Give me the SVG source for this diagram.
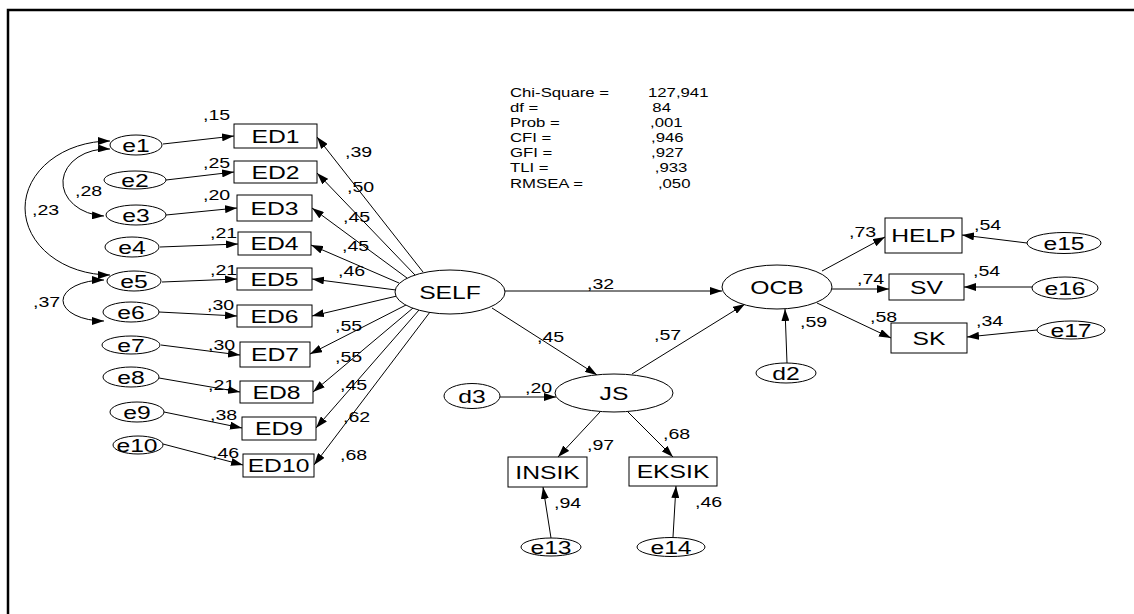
<svg xmlns="http://www.w3.org/2000/svg" width="1134" height="614" viewBox="0 0 1134 614">
<style>
text{font-family:"Liberation Sans",Arial,sans-serif;fill:#000}
.lbl{font-size:19px;text-anchor:middle}
.num{font-size:14.5px}
.st{font-size:13.5px}
.box{fill:#fff;stroke:#000;stroke-width:1}
.ov{fill:#fff;stroke:#000;stroke-width:1}
.ln{fill:none;stroke:#000;stroke-width:1;marker-end:url(#ah)}
.cv{fill:none;stroke:#000;stroke-width:1;marker-end:url(#ah);marker-start:url(#ahs)}
</style>
<defs>
<marker id="ah" viewBox="0 0 12 8" refX="12" refY="4" markerWidth="12" markerHeight="8" markerUnits="userSpaceOnUse" orient="auto"><path d="M0,0 L12,4 L0,8 z" fill="#000"/></marker>
<marker id="ahs" viewBox="0 0 12 8" refX="12" refY="4" markerWidth="12" markerHeight="8" markerUnits="userSpaceOnUse" orient="auto-start-reverse"><path d="M0,0 L12,4 L0,8 z" fill="#000"/></marker>
</defs>
<rect width="1134" height="614" fill="#fff"/>
<path d="M8,614 V10 H1134" fill="none" stroke="#000" stroke-width="2.5"/>

<g id="fit">
<text class="st" transform="translate(510,96.5) scale(1.24,1)"><tspan x="0" y="0">Chi-Square =</tspan><tspan x="0" y="15.2">df =</tspan><tspan x="0" y="30.4">Prob =</tspan><tspan x="0" y="45.6">CFI =</tspan><tspan x="0" y="60.8">GFI =</tspan><tspan x="0" y="76">TLI =</tspan><tspan x="0" y="91.2">RMSEA =</tspan></text>
<text class="st" transform="translate(648,96.5) scale(1.24,1)"><tspan x="0" y="0">127,941</tspan><tspan x="3.5" y="15.2">84</tspan><tspan x="1.7" y="30.4">,001</tspan><tspan x="2.5" y="45.6">,946</tspan><tspan x="2.5" y="60.8">,927</tspan><tspan x="5.5" y="76">,933</tspan><tspan x="8" y="91.2">,050</tspan></text>
</g>

<g id="connectors">
<path class="cv" d="M110,141 A85,67 0 0 0 110,275"/>
<path class="cv" d="M110,149 A44,33.5 0 0 0 104,216"/>
<path class="cv" d="M104,280 A41,20.5 0 0 0 104,321"/>
<line class="ln" x1="163" y1="144" x2="234" y2="136"/>
<line class="ln" x1="166" y1="180" x2="234" y2="172"/>
<line class="ln" x1="166" y1="215" x2="237" y2="208"/>
<line class="ln" x1="160" y1="247" x2="238" y2="244"/>
<line class="ln" x1="162" y1="282" x2="237" y2="279"/>
<line class="ln" x1="159" y1="312" x2="237" y2="316"/>
<line class="ln" x1="161" y1="345" x2="240" y2="355"/>
<line class="ln" x1="159" y1="378" x2="240" y2="392"/>
<line class="ln" x1="164" y1="412" x2="242" y2="428"/>
<line class="ln" x1="163" y1="444" x2="243" y2="465"/>
<line class="ln" x1="423" y1="272" x2="317" y2="137"/>
<line class="ln" x1="415" y1="275" x2="317" y2="173"/>
<line class="ln" x1="407" y1="278" x2="312" y2="208"/>
<line class="ln" x1="399" y1="283" x2="311" y2="245"/>
<line class="ln" x1="396" y1="290" x2="312" y2="279"/>
<line class="ln" x1="397" y1="296" x2="312" y2="316"/>
<line class="ln" x1="406" y1="305" x2="310" y2="354"/>
<line class="ln" x1="413" y1="308" x2="313" y2="392"/>
<line class="ln" x1="419" y1="310" x2="316" y2="428"/>
<line class="ln" x1="430" y1="312" x2="314" y2="465"/>
<line class="ln" x1="505" y1="291" x2="722" y2="291"/>
<line class="ln" x1="492" y1="308" x2="597" y2="375"/>
<line class="ln" x1="632" y1="374" x2="745" y2="304"/>
<line class="ln" x1="500" y1="397" x2="556" y2="397"/>
<line class="ln" x1="600" y1="412" x2="558" y2="457"/>
<line class="ln" x1="628" y1="412" x2="673" y2="457"/>
<line class="ln" x1="551" y1="538" x2="543" y2="487"/>
<line class="ln" x1="673" y1="537" x2="676" y2="486"/>
<line class="ln" x1="787" y1="363" x2="785" y2="309"/>
<line class="ln" x1="822" y1="271" x2="885" y2="237"/>
<line class="ln" x1="832" y1="289" x2="889" y2="289"/>
<line class="ln" x1="817" y1="303" x2="891" y2="338"/>
<line class="ln" x1="1027" y1="243" x2="962" y2="235"/>
<line class="ln" x1="1032" y1="287" x2="964" y2="287"/>
<line class="ln" x1="1037" y1="330" x2="967" y2="337"/>
</g>

<g id="weights">
<text class="num" transform="translate(203,120) scale(1.35,1)">,15</text>
<text class="num" transform="translate(203,168) scale(1.35,1)">,25</text>
<text class="num" transform="translate(203,200) scale(1.35,1)">,20</text>
<text class="num" transform="translate(210,238) scale(1.35,1)">,21</text>
<text class="num" transform="translate(210,275) scale(1.35,1)">,21</text>
<text class="num" transform="translate(207,310) scale(1.35,1)">,30</text>
<text class="num" transform="translate(208,350) scale(1.35,1)">,30</text>
<text class="num" transform="translate(208,390) scale(1.35,1)">,21</text>
<text class="num" transform="translate(210,420) scale(1.35,1)">,38</text>
<text class="num" transform="translate(212,458) scale(1.35,1)">,46</text>
<text class="num" transform="translate(345,157) scale(1.35,1)">,39</text>
<text class="num" transform="translate(347,192) scale(1.35,1)">,50</text>
<text class="num" transform="translate(343,222) scale(1.35,1)">,45</text>
<text class="num" transform="translate(342,251) scale(1.35,1)">,45</text>
<text class="num" transform="translate(338,276) scale(1.35,1)">,46</text>
<text class="num" transform="translate(335,331) scale(1.35,1)">,55</text>
<text class="num" transform="translate(335,362) scale(1.35,1)">,55</text>
<text class="num" transform="translate(340,390) scale(1.35,1)">,45</text>
<text class="num" transform="translate(343,422) scale(1.35,1)">,62</text>
<text class="num" transform="translate(340,460) scale(1.35,1)">,68</text>
<text class="num" transform="translate(32,215) scale(1.35,1)">,23</text>
<text class="num" transform="translate(75,196) scale(1.35,1)">,28</text>
<text class="num" transform="translate(33,307) scale(1.35,1)">,37</text>
<text class="num" transform="translate(587,289) scale(1.35,1)">,32</text>
<text class="num" transform="translate(537,342) scale(1.35,1)">,45</text>
<text class="num" transform="translate(654,340) scale(1.35,1)">,57</text>
<text class="num" transform="translate(525,393) scale(1.35,1)">,20</text>
<text class="num" transform="translate(587,450) scale(1.35,1)">,97</text>
<text class="num" transform="translate(663,439) scale(1.35,1)">,68</text>
<text class="num" transform="translate(554,508) scale(1.35,1)">,94</text>
<text class="num" transform="translate(695,507) scale(1.35,1)">,46</text>
<text class="num" transform="translate(800,327) scale(1.35,1)">,59</text>
<text class="num" transform="translate(849,237) scale(1.35,1)">,73</text>
<text class="num" transform="translate(857,284) scale(1.35,1)">,74</text>
<text class="num" transform="translate(870,322) scale(1.35,1)">,58</text>
<text class="num" transform="translate(974,230) scale(1.35,1)">,54</text>
<text class="num" transform="translate(973,276) scale(1.35,1)">,54</text>
<text class="num" transform="translate(976,326) scale(1.35,1)">,34</text>
</g>

<g id="ED1"><rect class="box" x="234" y="124" width="83" height="24"/><text class="lbl" transform="translate(275.5,142.8) scale(1.3,1)">ED1</text></g>
<g id="ED2"><rect class="box" x="234" y="161" width="83" height="22"/><text class="lbl" transform="translate(275.5,178.8) scale(1.3,1)">ED2</text></g>
<g id="ED3"><rect class="box" x="237" y="195" width="75" height="26"/><text class="lbl" transform="translate(274.5,214.8) scale(1.3,1)">ED3</text></g>
<g id="ED4"><rect class="box" x="238" y="232" width="73" height="23"/><text class="lbl" transform="translate(274.5,250.3) scale(1.3,1)">ED4</text></g>
<g id="ED5"><rect class="box" x="237" y="268" width="75" height="22"/><text class="lbl" transform="translate(274.5,285.8) scale(1.3,1)">ED5</text></g>
<g id="ED6"><rect class="box" x="237" y="305" width="75" height="22"/><text class="lbl" transform="translate(274.5,322.8) scale(1.3,1)">ED6</text></g>
<g id="ED7"><rect class="box" x="240" y="342" width="70" height="25"/><text class="lbl" transform="translate(275,361.3) scale(1.3,1)">ED7</text></g>
<g id="ED8"><rect class="box" x="240" y="381" width="73" height="22"/><text class="lbl" transform="translate(276.5,398.8) scale(1.3,1)">ED8</text></g>
<g id="ED9"><rect class="box" x="242" y="417" width="74" height="23"/><text class="lbl" transform="translate(279,435.3) scale(1.3,1)">ED9</text></g>
<g id="ED10"><rect class="box" x="243" y="454" width="71" height="23"/><text class="lbl" transform="translate(278.5,472.3) scale(1.3,1)">ED10</text></g>

<g id="e1"><ellipse class="ov" cx="136" cy="145" rx="26" ry="10"/><text class="lbl" transform="translate(136,152) scale(1.3,1)">e1</text></g>
<g id="e2"><ellipse class="ov" cx="135" cy="180" rx="31" ry="9"/><text class="lbl" transform="translate(135,187) scale(1.3,1)">e2</text></g>
<g id="e3"><ellipse class="ov" cx="136" cy="215" rx="30" ry="10"/><text class="lbl" transform="translate(136,222) scale(1.3,1)">e3</text></g>
<g id="e4"><ellipse class="ov" cx="132" cy="247" rx="27" ry="10"/><text class="lbl" transform="translate(132,254) scale(1.3,1)">e4</text></g>
<g id="e5"><ellipse class="ov" cx="134" cy="281" rx="27" ry="10"/><text class="lbl" transform="translate(134,288) scale(1.3,1)">e5</text></g>
<g id="e6"><ellipse class="ov" cx="131" cy="312" rx="28" ry="10"/><text class="lbl" transform="translate(131,319) scale(1.3,1)">e6</text></g>
<g id="e7"><ellipse class="ov" cx="131" cy="345" rx="29" ry="9"/><text class="lbl" transform="translate(131,352) scale(1.3,1)">e7</text></g>
<g id="e8"><ellipse class="ov" cx="131" cy="377" rx="28" ry="10"/><text class="lbl" transform="translate(131,384) scale(1.3,1)">e8</text></g>
<g id="e9"><ellipse class="ov" cx="137" cy="412" rx="27" ry="10"/><text class="lbl" transform="translate(137,419) scale(1.3,1)">e9</text></g>
<g id="e10"><ellipse class="ov" cx="138" cy="445" rx="25" ry="9"/><text class="lbl" transform="translate(137,452) scale(1.3,1)">e10</text></g>

<g id="SELF"><ellipse class="ov" cx="450" cy="292" rx="55" ry="22"/><text class="lbl" transform="translate(450,298.8) scale(1.3,1)">SELF</text></g>
<g id="OCB"><ellipse class="ov" cx="777" cy="287" rx="55" ry="22"/><text class="lbl" transform="translate(777,293.8) scale(1.3,1)">OCB</text></g>
<g id="JS"><ellipse class="ov" cx="614" cy="393" rx="59" ry="19"/><text class="lbl" transform="translate(614,399.8) scale(1.3,1)">JS</text></g>
<g id="d3"><ellipse class="ov" cx="472" cy="396" rx="28" ry="12.5"/><text class="lbl" transform="translate(472,402.8) scale(1.3,1)">d3</text></g>
<g id="d2"><ellipse class="ov" cx="786" cy="373" rx="30" ry="10"/><text class="lbl" transform="translate(786,379.8) scale(1.3,1)">d2</text></g>
<g id="INSIK"><rect class="box" x="508" y="457" width="79" height="30"/><text class="lbl" transform="translate(547.5,478.8) scale(1.3,1)">INSIK</text></g>
<g id="EKSIK"><rect class="box" x="629" y="457" width="88" height="29"/><text class="lbl" transform="translate(673,478.3) scale(1.3,1)">EKSIK</text></g>
<g id="e13"><ellipse class="ov" cx="551" cy="547" rx="30" ry="9"/><text class="lbl" transform="translate(551,554) scale(1.3,1)">e13</text></g>
<g id="e14"><ellipse class="ov" cx="671" cy="547" rx="34" ry="9.5"/><text class="lbl" transform="translate(671,554) scale(1.3,1)">e14</text></g>
<g id="HELP"><rect class="box" x="885" y="218" width="77" height="35"/><text class="lbl" transform="translate(923.5,242.3) scale(1.3,1)">HELP</text></g>
<g id="SV"><rect class="box" x="889" y="274" width="75" height="26"/><text class="lbl" transform="translate(926.5,293.8) scale(1.3,1)">SV</text></g>
<g id="SK"><rect class="box" x="891" y="323" width="76" height="30"/><text class="lbl" transform="translate(929,344.8) scale(1.3,1)">SK</text></g>
<g id="e15"><ellipse class="ov" cx="1064" cy="243" rx="37" ry="10.5"/><text class="lbl" transform="translate(1064,250) scale(1.3,1)">e15</text></g>
<g id="e16"><ellipse class="ov" cx="1065" cy="288" rx="33" ry="11"/><text class="lbl" transform="translate(1065,295) scale(1.3,1)">e16</text></g>
<g id="e17"><ellipse class="ov" cx="1071" cy="330" rx="34" ry="9"/><text class="lbl" transform="translate(1071,337) scale(1.3,1)">e17</text></g>
</svg>
